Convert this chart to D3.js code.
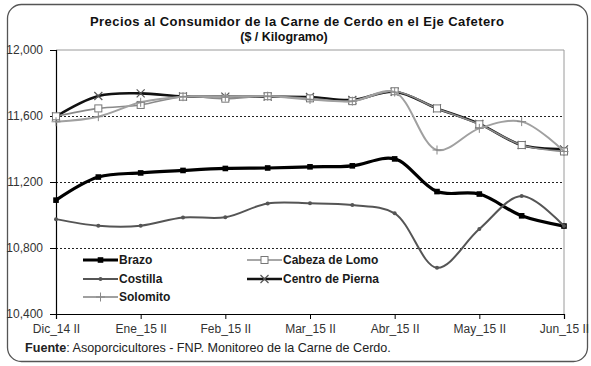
<!DOCTYPE html>
<html>
<head>
<meta charset="utf-8">
<script src="https://cdn.jsdelivr.net/npm/d3@7/dist/d3.min.js"></script>
<style>
  html, body { margin: 0; padding: 0; background: #fff; }
  svg { display: block; font-family: "Liberation Sans", Arial, sans-serif; }
</style>
</head>
<body>
<svg id="chart" width="591" height="366"></svg>
<script>
// Half-month periods, December 2014 (second half) to June 2015 (second half)
const periods = ["Dic_14 II", "Ene_15 I", "Ene_15 II", "Feb_15 I", "Feb_15 II", "Mar_15 I", "Mar_15 II",
                 "Abr_15 I", "Abr_15 II", "May_15 I", "May_15 II", "Jun_15 I", "Jun_15 II"];
const tickLabels = ["Dic_14 II", "Ene_15 II", "Feb_15 II", "Mar_15 II", "Abr_15 II", "May_15 II", "Jun_15 II"];
const yTicks = [10400, 10800, 11200, 11600, 12000];

// Consumer prices per cut ($ / kg)
const brazo     = [11090, 11230, 11255, 11270, 11282, 11285, 11292, 11298, 11340, 11142, 11127, 10995, 10933];
const cabeza    = [11598, 11646, 11667, 11717, 11705, 11720, 11707, 11690, 11750, 11646, 11550, 11424, 11385];
const costilla  = [10975, 10935, 10935, 10985, 10986, 11070, 11071, 11060, 11010, 10680, 10915, 11115, 10933];
const centro    = [11597, 11721, 11737, 11718, 11717, 11717, 11715, 11697, 11747, 11646, 11552, 11424, 11398];
const solomito  = [11565, 11596, 11683, 11717, 11715, 11720, 11700, 11690, 11745, 11394, 11525, 11566, 11385];

const seriesNames = ["Brazo", "Cabeza de Lomo", "Costilla", "Centro de Pierna", "Solomito"];

const svg = d3.select("#chart");
const W = 591, H = 366;
const plot = { left: 56, right: 564, top: 50, bottom: 314 };

svg.append("rect").attr("width", W).attr("height", H).attr("fill", "#fff");

// Outer rounded frame
svg.append("rect")
  .attr("x", 7.5).attr("y", 4.5).attr("width", 580).attr("height", 357)
  .attr("rx", 14).attr("ry", 14)
  .attr("fill", "none").attr("stroke", "#555").attr("stroke-width", 1.3);

const x = d3.scalePoint().domain(periods).range([plot.left, plot.right]);
const y = d3.scaleLinear().domain([10400, 12000]).range([plot.bottom, plot.top]);

// Plot frame (top and right edges)
svg.append("path")
  .attr("d", `M${plot.left},${plot.top}H${plot.right}V${plot.bottom}`)
  .attr("fill", "none").attr("stroke", "#9a9a9a").attr("stroke-width", 1);

// Dashed gridlines
svg.append("g").selectAll("line")
  .data(yTicks.filter(v => v > 10400 && v < 12000))
  .join("line")
  .attr("x1", plot.left).attr("x2", plot.right)
  .attr("y1", d => Math.round(y(d)) + 0.5).attr("y2", d => Math.round(y(d)) + 0.5)
  .attr("stroke", "#222").attr("stroke-width", 1).attr("stroke-dasharray", "2,2");

// Axes
const fmt = d3.format(",");
const yAxis = svg.append("g")
  .attr("transform", `translate(${plot.left},0)`)
  .call(d3.axisLeft(y).tickValues(yTicks).tickFormat(fmt).tickSize(6).tickPadding(7));
const xAxis = svg.append("g")
  .attr("transform", `translate(0,${plot.bottom})`)
  .call(d3.axisBottom(x).tickValues(tickLabels).tickSize(5).tickPadding(5));

[yAxis, xAxis].forEach(g => {
  g.select(".domain").attr("stroke", "#000").attr("stroke-width", 1.2);
  g.selectAll(".tick line").attr("stroke", "#000");
  g.selectAll(".tick text").attr("fill", "#333").style("font-size", "12px")
    .style("font-family", "'Liberation Sans', Arial, sans-serif");
});

// Series styles
const styles = {
  "Brazo":            { color: "#000",    width: 3.2, marker: "square" },
  "Cabeza de Lomo":   { color: "#8a8a8a", width: 1.6, marker: "openSquare" },
  "Costilla":         { color: "#555",    width: 2.0, marker: "dot" },
  "Centro de Pierna": { color: "#111",    width: 2.6, marker: "cross" },
  "Solomito":         { color: "#a0a0a0", width: 2.0, marker: "plus" }
};
const values = {
  "Brazo": brazo, "Cabeza de Lomo": cabeza, "Costilla": costilla,
  "Centro de Pierna": centro, "Solomito": solomito
};

function drawMarker(g, type, cx, cy) {
  if (type === "square") {
    g.append("rect").attr("x", cx - 2.8).attr("y", cy - 2.8).attr("width", 5.6).attr("height", 5.6).attr("fill", "#000");
  } else if (type === "openSquare") {
    g.append("rect").attr("x", cx - 3.5).attr("y", cy - 3.5).attr("width", 7).attr("height", 7)
      .attr("fill", "#fff").attr("stroke", "#777").attr("stroke-width", 1);
  } else if (type === "dot") {
    g.append("circle").attr("cx", cx).attr("cy", cy).attr("r", 2).attr("fill", "#555");
  } else if (type === "cross") {
    g.append("path").attr("d", `M${cx - 4},${cy - 4}L${cx + 4},${cy + 4}M${cx - 4},${cy + 4}L${cx + 4},${cy - 4}`)
      .attr("stroke", "#555").attr("stroke-width", 1.2).attr("fill", "none");
  } else if (type === "plus") {
    g.append("path").attr("d", `M${cx - 4.5},${cy}H${cx + 4.5}M${cx},${cy - 4.5}V${cy + 4.5}`)
      .attr("stroke", "#888").attr("stroke-width", 1).attr("fill", "none");
  }
}

const line = d3.line()
  .x((d, i) => x(periods[i]))
  .y(d => y(d))
  .curve(d3.curveCatmullRom.alpha(0.5));

const drawOrder = ["Brazo", "Costilla", "Centro de Pierna", "Cabeza de Lomo", "Solomito"];
drawOrder.forEach(name => {
  const s = styles[name];
  const g = svg.append("g");
  g.append("path").datum(values[name])
    .attr("d", line)
    .attr("fill", "none").attr("stroke", s.color).attr("stroke-width", s.width)
    .attr("stroke-linejoin", "round").attr("stroke-linecap", "round");
  values[name].forEach((v, i) => drawMarker(g, s.marker, x(periods[i]), y(v)));
});

// Legend: two columns, filled row by row
const legend = svg.append("g");
const colX = [83, 247];
const rowY = [260, 279, 297];
seriesNames.forEach((name, k) => {
  const s = styles[name];
  const lx = colX[k % 2], ly = rowY[Math.floor(k / 2)];
  const item = legend.append("g");
  item.append("line").attr("x1", lx).attr("x2", lx + 35).attr("y1", ly).attr("y2", ly)
    .attr("stroke", s.color).attr("stroke-width", s.width);
  drawMarker(item, s.marker, lx + 17.5, ly);
  item.append("text").attr("x", lx + 36).attr("y", ly).attr("dy", "0.35em")
    .attr("fill", "#1a1a1a").style("font-size", "12px").style("font-weight", "bold")
    .text(name);
});

// Title
svg.append("text").attr("x", 297).attr("y", 26).attr("text-anchor", "middle")
  .style("font-size", "13px").style("font-weight", "bold").attr("fill", "#111")
  .attr("textLength", 414).attr("lengthAdjust", "spacing")
  .text("Precios al Consumidor de la Carne de Cerdo en el Eje Cafetero");
svg.append("text").attr("x", 284).attr("y", 41).attr("text-anchor", "middle")
  .style("font-size", "12.5px").style("font-weight", "bold").attr("fill", "#111")
  .text("($ / Kilogramo)");

// Source note
const src = svg.append("text").attr("x", 25).attr("y", 352).style("font-size", "12.6px").attr("fill", "#222");
src.append("tspan").style("font-weight", "bold").text("Fuente");
src.append("tspan").text(": Asoporcicultores - FNP. Monitoreo de la Carne de Cerdo.");
</script>
</body>
</html>
